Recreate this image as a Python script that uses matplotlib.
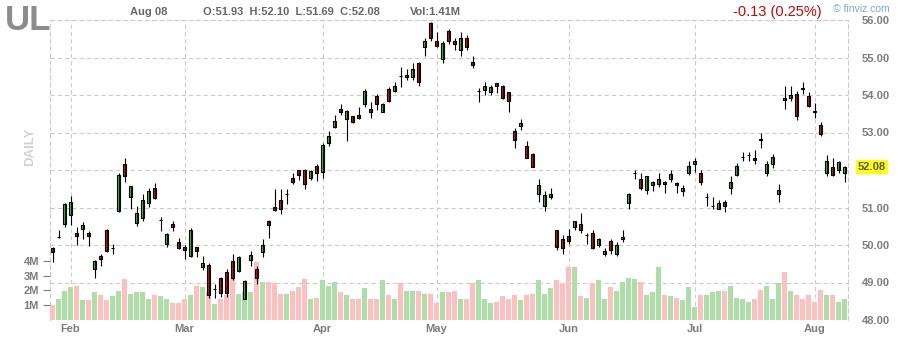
import numpy as np
import matplotlib
matplotlib.use("Agg")
import matplotlib.pyplot as plt
from matplotlib import transforms

plt.rcParams['font.family'] = ['Liberation Sans', 'DejaVu Sans']

# daily candles, oldest first
opens = [49.93, 50.22, 50.55, 50.81, 50.31, 50.43, 50.33, 49.35, 49.70, 50.39,
         49.92, 50.91, 52.17, 51.27, 50.60, 50.71, 51.11, 51.53, 50.67, 50.04,
         50.57, 50.07, 49.94, 49.71, 49.94, 49.42, 49.46, 48.82, 49.13, 49.27,
         49.57, 49.30, 48.57, 49.60, 49.35, 49.82, 50.63, 51.00, 51.19, 51.37,
         51.80, 51.99, 51.99, 51.80, 52.12, 51.96, 52.73, 53.15, 53.62, 53.37,
         53.43, 53.46, 53.75, 53.62, 53.96, 53.56, 54.15, 54.12, 54.51, 54.47,
         54.47, 54.84, 55.29, 55.91, 55.43, 54.97, 55.72, 55.43, 55.19, 55.53,
         54.87, 54.11, 54.14, 54.07, 54.31, 54.23, 54.07, 53.03, 53.18, 52.65,
         52.44, 51.37, 51.05, 51.29, 50.39, 50.17, 50.25, 50.49, 50.57, 50.28,
         50.31, 50.01, 49.77, 50.12, 49.75, 50.15, 51.11, 51.91, 51.75, 51.48,
         51.59, 51.64, 51.69, 51.77, 51.64, 51.43, 51.91, 52.17, 51.93, 51.29,
         51.04, 50.97, 51.16, 51.51, 51.88, 52.35, 52.40, 52.33, 52.82, 51.93,
         52.17, 51.35, 53.93, 53.93, 54.04, 54.18, 53.96, 53.56, 53.19, 51.91,
         52.09, 52.01, 51.93]
highs = [49.95, 50.41, 51.12, 51.30, 50.47, 50.61, 50.37, 49.61, 49.75, 50.44,
         50.04, 51.91, 52.33, 51.57, 51.03, 51.35, 51.53, 51.65, 50.76, 50.31,
         50.63, 50.20, 49.99, 50.45, 49.95, 49.70, 49.51, 48.95, 49.15, 49.35,
         49.75, 49.70, 49.08, 49.84, 49.43, 50.15, 50.66, 51.49, 51.49, 51.49,
         51.91, 52.01, 52.04, 51.99, 52.17, 52.73, 53.05, 53.48, 53.75, 53.61,
         53.44, 53.69, 54.15, 53.81, 54.02, 53.78, 54.22, 54.34, 54.74, 54.69,
         54.85, 54.89, 55.53, 55.96, 55.67, 55.45, 55.75, 55.53, 55.67, 55.61,
         55.05, 54.19, 54.36, 54.28, 54.33, 54.28, 54.09, 53.11, 53.35, 52.77,
         52.45, 51.77, 51.43, 51.51, 50.41, 50.28, 50.44, 50.65, 50.84, 50.31,
         50.39, 50.20, 49.91, 50.15, 50.07, 50.39, 51.40, 52.01, 51.93, 51.85,
         51.72, 51.93, 51.72, 51.99, 51.69, 51.59, 52.23, 52.31, 51.99, 51.40,
         51.27, 51.19, 51.21, 51.83, 52.20, 52.49, 52.49, 52.52, 52.98, 52.23,
         52.44, 51.64, 54.23, 54.23, 54.12, 54.36, 54.09, 53.80, 53.29, 52.39,
         52.31, 52.25, 52.10]
lows = [49.55, 50.20, 50.47, 50.53, 50.00, 50.16, 49.97, 49.12, 49.43, 49.81,
        49.77, 50.87, 51.68, 50.95, 50.51, 50.65, 51.02, 51.23, 50.38, 49.94,
        50.38, 49.89, 49.63, 49.67, 49.67, 49.33, 48.60, 48.60, 48.62, 48.62,
        49.08, 49.28, 48.55, 49.44, 48.95, 49.67, 50.19, 50.91, 50.83, 51.10,
        51.63, 51.74, 51.50, 51.74, 51.71, 51.79, 52.64, 53.12, 53.47, 52.78,
        53.26, 53.36, 53.68, 53.40, 53.61, 53.55, 53.82, 54.08, 54.22, 54.39,
        54.39, 54.23, 55.05, 55.43, 55.27, 54.86, 55.37, 55.19, 55.03, 55.21,
        54.73, 53.82, 54.00, 54.00, 54.06, 53.90, 53.55, 52.59, 53.08, 52.33,
        52.08, 51.15, 50.91, 51.23, 49.88, 49.77, 50.04, 50.39, 50.33, 50.04,
        49.89, 49.96, 49.72, 49.77, 49.72, 50.09, 50.97, 51.75, 51.48, 51.35,
        51.43, 51.56, 51.40, 51.69, 51.40, 51.32, 51.88, 51.96, 51.61, 51.03,
        50.95, 50.95, 50.89, 51.35, 51.85, 52.25, 52.25, 52.15, 52.60, 51.83,
        52.06, 51.16, 53.64, 53.83, 53.34, 54.04, 53.67, 53.40, 52.91, 51.83,
        51.85, 51.93, 51.69]
closes = [49.82, 50.22, 51.08, 51.16, 50.24, 50.52, 50.24, 49.57, 49.64, 49.84,
          49.92, 51.88, 51.83, 51.56, 50.84, 51.19, 51.45, 51.26, 50.67, 50.28,
          50.48, 49.92, 49.87, 50.39, 49.83, 49.51, 48.68, 48.82, 48.73, 48.73,
          49.12, 49.67, 49.03, 49.73, 49.12, 50.00, 50.54, 50.94, 50.97, 51.37,
          51.68, 51.88, 51.64, 51.96, 51.91, 52.68, 52.92, 53.30, 53.56, 53.57,
          53.29, 53.40, 54.10, 53.56, 53.77, 53.77, 53.85, 54.25, 54.50, 54.52,
          54.68, 54.36, 55.45, 55.51, 55.32, 55.40, 55.45, 55.37, 55.53, 55.29,
          54.79, 54.11, 54.25, 54.20, 54.24, 53.92, 53.85, 52.81, 53.24, 52.33,
          52.09, 51.59, 51.32, 51.35, 49.96, 49.93, 50.12, 50.63, 50.39, 50.28,
          49.91, 50.17, 49.83, 49.88, 50.01, 50.20, 51.37, 51.91, 51.51, 51.83,
          51.67, 51.75, 51.64, 51.88, 51.59, 51.51, 52.12, 52.25, 51.69, 51.29,
          51.04, 51.13, 51.05, 51.67, 52.12, 52.35, 52.40, 52.28, 52.81, 52.17,
          52.36, 51.48, 53.88, 54.01, 53.43, 54.17, 53.72, 53.55, 52.95, 52.23,
          51.88, 52.20, 52.08]
# volume in millions of shares
volumes = [0.98, 1.39, 1.93, 2.26, 2.33, 1.32, 1.32, 1.86, 1.72, 1.32,
           1.59, 1.99, 2.74, 1.79, 1.86, 1.86, 1.39, 1.66, 1.59, 1.39,
           1.18, 1.18, 1.45, 1.72, 2.33, 2.20, 1.90, 1.10, 1.45, 1.66,
           2.74, 1.79, 1.90, 1.86, 3.90, 2.60, 2.55, 2.50, 1.75, 1.75,
           1.99, 2.20, 2.80, 1.45, 1.52, 2.67, 2.33, 2.60, 1.86, 1.72,
           1.39, 1.39, 2.13, 1.45, 1.39, 2.67, 1.66, 1.45, 2.49, 1.93,
           1.99, 1.93, 1.79, 1.79, 1.12, 1.86, 1.86, 1.93, 1.39, 1.45,
           2.47, 2.67, 1.45, 1.18, 1.25, 1.59, 1.45, 1.72, 1.32, 1.66,
           1.79, 2.67, 1.79, 2.13, 2.67, 2.47, 3.61, 3.55, 1.59, 1.52,
           2.53, 2.67, 1.39, 2.20, 1.99, 2.60, 2.87, 2.80, 2.60, 1.72,
           1.86, 3.55, 1.72, 1.59, 1.52, 1.32, 2.26, 0.91, 1.72, 1.66,
           1.86, 1.93, 1.93, 2.33, 1.52, 1.39, 1.25, 1.39, 2.06, 2.33,
           1.45, 2.53, 3.21, 1.99, 1.72, 1.45, 1.66, 1.25, 2.06, 1.66,
           1.72, 1.25, 1.41]

months = ['Feb', 'Mar', 'Apr', 'May', 'Jun', 'Jul', 'Aug']
month_start = [3, 22, 45, 64, 86, 107, 127]
price_ticks = [48, 49, 50, 51, 52, 53, 54, 55, 56]
vol_ticks = [1, 2, 3, 4]

W, H = 898, 340
fig = plt.figure(figsize=(W / 100, H / 100), dpi=100)

def fx(p):
    return p / W

def fy(p):
    return 1 - p / H

grid_c = '#cacaca'
dash = (0, (4, 3))
lab_c = '#7c7c7c'

n = len(closes)
x = np.arange(n)
o = np.array(opens); c = np.array(closes)
up = c >= o
last = closes[-1]

# base axes: price scale, grid and frame
ax = fig.add_axes([fx(50), fy(320), fx(848) - fx(50), fy(20) - fy(320)])
ax.set_xlim(-2.5 / 6, (848 - 52.5) / 6)
ax.set_ylim(48, 56)

# volume bars (twin above the grid)
axv = ax.twinx()
# candles on top of everything
axc = ax.twinx()

ax.spines['bottom'].set_visible(False)
for s in ['left', 'right', 'top']:
    ax.spines[s].set_color(grid_c)
    ax.spines[s].set_linestyle(dash)
    ax.spines[s].set_linewidth(0.75)
ax.yaxis.tick_right()
ax.set_yticks(price_ticks)
# the level nearest the last price gives way to the price tag
ax.set_yticklabels(['' if abs(p - last) < 0.3 else '%.2f' % p for p in price_ticks])
ax.tick_params(axis='y', length=0, pad=10, labelsize=8, labelcolor=lab_c)
ax.set_xticks(month_start)
ax.set_xticklabels(months)
ax.tick_params(axis='x', length=0, pad=3, labelsize=8, labelcolor=lab_c)
for t in ax.get_xticklabels() + ax.get_yticklabels():
    t.set_fontweight('bold')
ax.grid(True, color=grid_c, linestyle=dash, linewidth=0.75)

axv.set_ylim(0, 300 / 14.8)
axv.bar(x, volumes, width=5 / 6, color=np.where(up, '#acdfa6', '#ffbfbf'), linewidth=0)
axv.yaxis.tick_left()
axv.set_yticks(vol_ticks)
axv.set_yticklabels(['%dM' % v for v in vol_ticks])
axv.tick_params(axis='y', length=5, width=0.8, color=lab_c, pad=3,
                labelsize=8, labelcolor=lab_c)
for t in axv.get_yticklabels():
    t.set_fontweight('bold')
for s in axv.spines.values():
    s.set_visible(False)

axc.set_ylim(48, 56)
axc.set_yticks([])
for s in axc.spines.values():
    s.set_visible(False)
axc.vlines(x, lows, highs, color='black', linewidth=0.8)
axc.bar(x, np.abs(c - o), bottom=np.minimum(o, c), width=0.62,
        color=np.where(up, '#00ee00', '#ff0000'), edgecolor='black', linewidth=0.8)

# last price tag on the right axis
tr = transforms.blended_transform_factory(ax.transAxes, ax.transData)
axc.text(1.0 + 10 / 798, last, '%.2f' % last, transform=tr,
         ha='left', va='center', fontsize=8, fontweight='bold', color='#555555',
         bbox=dict(boxstyle='square,pad=0.15', fc='#ffff00', ec='none'))

# header
fig.text(fx(5), fy(30), 'UL', fontsize=25, fontweight='bold', color='#8c8c8c', va='baseline')
fig.text(fx(130), fy(15), 'Aug 08', fontsize=8, fontweight='bold', color='#666666', va='baseline')
fig.text(fx(203), fy(15), 'O:51.93  H:52.10  L:51.69  C:52.08', fontsize=8,
         fontweight='bold', color='#666666', va='baseline')
fig.text(fx(410), fy(15), 'Vol:1.41M', fontsize=8, fontweight='bold', color='#666666', va='baseline')
fig.text(fx(733), fy(16), '-0.13 (0.25%)', fontsize=10.5, color='#d40000', va='baseline')
fig.text(fx(833), fy(12), '\u00a9 finviz.com', fontsize=7.5, color='#78acd8', va='baseline')
fig.text(fx(30), fy(147), 'DAILY', rotation=90, fontsize=9.5, fontweight='bold',
         color='#d2d2d2', ha='center', va='center')

fig.savefig('out.png', dpi=100)
